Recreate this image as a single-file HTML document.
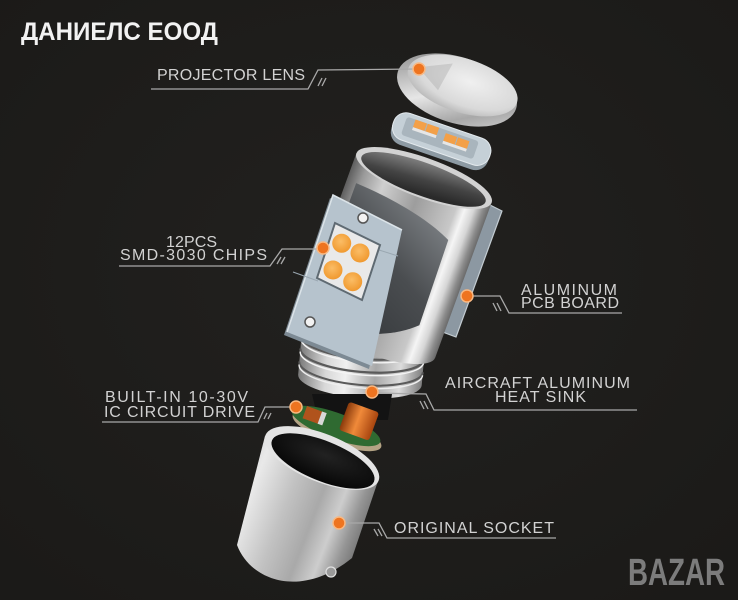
<!DOCTYPE html>
<html><head><meta charset="utf-8"><style>
html,body{margin:0;padding:0;background:#1f1e1c;}
svg{display:block;}
.lb{font-family:"Liberation Sans",sans-serif;font-size:16px;fill:#d2d2d2;}
.ln{fill:none;stroke:#a9a9a9;stroke-width:1.3;}
.dot{fill:#ee7420;stroke:#f8b882;stroke-width:1.5;}
</style></head><body>
<svg width="738" height="600" viewBox="0 0 738 600" xmlns="http://www.w3.org/2000/svg">
<defs>
<radialGradient id="bg" cx="50%" cy="45%" r="70%"><stop offset="0" stop-color="#22211f"/><stop offset="1" stop-color="#1b1a18"/></radialGradient>
<linearGradient id="cyl" gradientUnits="userSpaceOnUse" x1="-72" y1="0" x2="72" y2="0">
<stop offset="0" stop-color="#5e5e5e"/><stop offset=".1" stop-color="#9a9a9a"/><stop offset=".25" stop-color="#cfcfcf"/><stop offset=".5" stop-color="#9d9d9d"/><stop offset=".78" stop-color="#c8c8c8"/><stop offset=".84" stop-color="#f5f5f5"/><stop offset=".9" stop-color="#d6d6d6"/><stop offset=".96" stop-color="#8c8c8c"/><stop offset="1" stop-color="#6a6a6a"/></linearGradient>
<linearGradient id="win" gradientUnits="userSpaceOnUse" x1="40" y1="40" x2="-30" y2="170"><stop offset="0" stop-color="#7a7e82"/><stop offset=".45" stop-color="#4a4d50"/><stop offset="1" stop-color="#34373a"/></linearGradient>
<linearGradient id="inner" x1="0" y1="0" x2="0.3" y2="1"><stop offset="0" stop-color="#8a8a8a"/><stop offset=".6" stop-color="#444"/><stop offset="1" stop-color="#2a2a2a"/></linearGradient>
<linearGradient id="hs" gradientUnits="userSpaceOnUse" x1="-62" y1="0" x2="62" y2="0">
<stop offset="0" stop-color="#7a7a7a"/><stop offset=".22" stop-color="#d8d8d8"/><stop offset=".38" stop-color="#f0f0f0"/><stop offset=".62" stop-color="#a8a8a8"/><stop offset=".82" stop-color="#dcdcdc"/><stop offset="1" stop-color="#7e7e7e"/></linearGradient>
<linearGradient id="sock" gradientUnits="userSpaceOnUse" x1="238" y1="450" x2="380" y2="505">
<stop offset="0" stop-color="#c9c9c9"/><stop offset=".18" stop-color="#e9e9e9"/><stop offset=".42" stop-color="#c2c2c2"/><stop offset=".62" stop-color="#a9a9a9"/><stop offset=".76" stop-color="#cdcdcd"/><stop offset=".88" stop-color="#959595"/><stop offset="1" stop-color="#6c6c6c"/></linearGradient>
<radialGradient id="hole" cx="50%" cy="35%" r="70%"><stop offset="0" stop-color="#222"/><stop offset="1" stop-color="#050505"/></radialGradient>
<linearGradient id="lensb" x1="0" y1="0" x2="1" y2="1"><stop offset="0" stop-color="#7e7e7e"/><stop offset=".5" stop-color="#e6e6e6"/><stop offset=".75" stop-color="#a8a8a8"/><stop offset="1" stop-color="#dcdcdc"/></linearGradient>
<radialGradient id="lenst" cx="55%" cy="40%" r="65%"><stop offset="0" stop-color="#f0f0f0"/><stop offset=".7" stop-color="#d9d9d9"/><stop offset="1" stop-color="#b4b4b4"/></radialGradient>
<radialGradient id="led" cx="45%" cy="40%" r="60%"><stop offset="0" stop-color="#fbbd66"/><stop offset="1" stop-color="#f0992f"/></radialGradient>
<linearGradient id="coil" x1="0" y1="0" x2="1" y2="0"><stop offset="0" stop-color="#8a3a0c"/><stop offset=".45" stop-color="#f08a3a"/><stop offset="1" stop-color="#a8450f"/></linearGradient>
</defs>
<rect width="738" height="600" fill="url(#bg)"/>

<polygon points="486,203 502,211 456,337 440,331" fill="#8c98a2" stroke="#c3ccd2" stroke-width="1.2"/>

<g transform="translate(363,345) rotate(5)">
<path d="M-62 -15 L-62 35 A62 18 0 0 0 62 35 L62 -15 Z" fill="url(#hs)"/>
<path d="M-62 -4 A62 18 0 0 0 62 -4" fill="none" stroke="#5a5a5a" stroke-width="2.2"/>
<path d="M-62 -1 A62 18 0 0 0 62 -1" fill="none" stroke="#f4f4f4" stroke-width="1.4"/>
<path d="M-62 9 A62 18 0 0 0 62 9" fill="none" stroke="#5a5a5a" stroke-width="2.2"/>
<path d="M-62 12 A62 18 0 0 0 62 12" fill="none" stroke="#f4f4f4" stroke-width="1.4"/>
<path d="M-62 22 A62 18 0 0 0 62 22" fill="none" stroke="#5a5a5a" stroke-width="2"/>
<path d="M-62 25 A62 18 0 0 0 62 25" fill="none" stroke="#eeeeee" stroke-width="1.4"/>
</g>

<polygon points="312,394 392,394 388,420 318,420" fill="#131313"/>
<ellipse cx="337" cy="431" rx="47" ry="13" transform="rotate(20 337 431)" fill="#b3a384"/>
<ellipse cx="336" cy="426" rx="47" ry="13" transform="rotate(20 336 426)" fill="#2f6a31"/>
<g transform="translate(358,424) rotate(20)">
<rect x="-16" y="-18" width="32" height="30" rx="3" fill="url(#coil)"/>
</g>
<g transform="translate(314,416) rotate(20)">
<rect x="-10" y="-7" width="20" height="13" fill="#b0531c"/>
<rect x="6" y="-7" width="5" height="13" fill="#d8d8d8"/>
</g>

<g transform="translate(424,178) rotate(20)">
<path d="M-72 0 L-72 165 A72 20 0 0 0 72 165 L72 0 Z" fill="url(#cyl)"/>
<path d="M-62 28 C-20 30 20 38 44 50 L46 140 C30 155 10 165 -20 170 L-62 170 Z" fill="url(#win)"/>
<ellipse cx="0" cy="0" rx="72" ry="20" fill="#d2d2d2"/>
<ellipse cx="0" cy="1.5" rx="66" ry="16.5" fill="url(#inner)"/>
</g>

<polygon points="330,198 399,233 369,369 284,335" fill="#7d8a94"/>
<polygon points="333,195 402,230 372,366 287,332" fill="#b6c3cd"/>
<polyline points="287,332 333,195 402,230" fill="none" stroke="#dbe3e8" stroke-width="1.6"/>
<line x1="293" y1="272" x2="318" y2="281" stroke="#9aa7b1" stroke-width="1"/>
<line x1="379" y1="250" x2="398" y2="256" stroke="#9aa7b1" stroke-width="1"/>
<polygon points="335,223 380,245 362,300 317,278" fill="#e9e9e9" stroke="#5f6a72" stroke-width="2"/>
<circle cx="341.7" cy="243.3" r="9.5" fill="url(#led)"/>
<circle cx="360" cy="253" r="9.5" fill="url(#led)"/>
<circle cx="333" cy="270" r="9.5" fill="url(#led)"/>
<circle cx="352.7" cy="281.7" r="9.5" fill="url(#led)"/>
<circle cx="363" cy="218" r="5" fill="#f2f2f2" stroke="#555" stroke-width="1.5"/>
<circle cx="310" cy="322" r="5" fill="#f2f2f2" stroke="#555" stroke-width="1.5"/>

<g transform="translate(457,90) rotate(17.5)">
<ellipse cx="0" cy="0" rx="62" ry="33" fill="url(#lensb)"/>
<ellipse cx="4" cy="-6" rx="57" ry="27" fill="url(#lenst)"/>
<path d="M-44 -10 L-12 -24 L-18 6 Z" fill="#a0a0a0" opacity=".35"/>
</g>

<g transform="translate(441,141) rotate(19)">
<rect x="-51" y="-13" width="102" height="30" rx="13" fill="#8d9aa3"/>
<rect x="-51" y="-16" width="102" height="28" rx="13" fill="#c5d0d7" stroke="#e3e9ed" stroke-width="1"/>
<rect x="-40" y="-12" width="76" height="19" rx="3" fill="#a9b5bd"/>
<rect x="-31" y="-12" width="12" height="8" fill="#f3a048"/>
<rect x="-18" y="-12" width="12" height="8" fill="#f3a048"/>
<rect x="-31" y="-4" width="25" height="3" fill="#e6e6e6"/>
<rect x="2" y="-9" width="12" height="8" fill="#f3a048"/>
<rect x="15" y="-9" width="12" height="8" fill="#f3a048"/>
<rect x="2" y="-1" width="25" height="3" fill="#e6e6e6"/>
</g>

<path d="M265 436 L237 545 C250 580 300 600 352 558 L378 481 Z" fill="url(#sock)"/>
<ellipse cx="322" cy="458" rx="61" ry="24" transform="rotate(22 322 458)" fill="#e4e4e4"/>
<ellipse cx="323" cy="461" rx="55" ry="20" transform="rotate(22 323 461)" fill="url(#hole)"/>
<circle cx="331" cy="572" r="5" fill="#9a9a9a" stroke="#e0e0e0" stroke-width="1.2"/>

<polyline class="ln" points="151,89 308,89 318,70 419,69"/>
<line class="ln" x1="318" y1="86" x2="322" y2="78"/><line class="ln" x1="322" y1="86" x2="326" y2="78"/>
<polyline class="ln" points="119,266 270,266 282,249 323,249"/>
<line class="ln" x1="277" y1="264" x2="281" y2="257"/><line class="ln" x1="281" y1="264" x2="285" y2="257"/>
<polyline class="ln" points="467,296 500,296 509,313 622,313"/>
<line class="ln" x1="493" y1="303" x2="497" y2="311"/><line class="ln" x1="497" y1="303" x2="501" y2="311"/>
<polyline class="ln" points="372,393 426,394 434,410 637,410"/>
<line class="ln" x1="420" y1="401" x2="424" y2="409"/><line class="ln" x1="424" y1="401" x2="428" y2="409"/>
<polyline class="ln" points="102,422 258,422 265,407 296,407"/>
<line class="ln" x1="264" y1="419" x2="267" y2="413"/><line class="ln" x1="268" y1="419" x2="271" y2="413"/>
<polyline class="ln" points="339,523 379,523 387,538 556,538"/>
<line class="ln" x1="374" y1="529" x2="378" y2="536"/><line class="ln" x1="378" y1="529" x2="382" y2="536"/>

<circle class="dot" cx="419" cy="69" r="6"/>
<circle class="dot" cx="323" cy="248" r="6"/>
<circle class="dot" cx="467" cy="296" r="6"/>
<circle class="dot" cx="372" cy="392" r="6"/>
<circle class="dot" cx="296" cy="407" r="6"/>
<circle class="dot" cx="339" cy="523" r="6"/>

<text class="lb" x="157" y="80" textLength="148" lengthAdjust="spacing">PROJECTOR LENS</text>
<text class="lb" x="166" y="247" textLength="51" lengthAdjust="spacing">12PCS</text>
<text class="lb" x="120" y="260" textLength="147" lengthAdjust="spacing">SMD-3030 CHIPS</text>
<text class="lb" x="521" y="295" textLength="96" lengthAdjust="spacing">ALUMINUM</text>
<text class="lb" x="521" y="308" textLength="98" lengthAdjust="spacing">PCB BOARD</text>
<text class="lb" x="445" y="388" textLength="185" lengthAdjust="spacing">AIRCRAFT ALUMINUM</text>
<text class="lb" x="495" y="402" textLength="91" lengthAdjust="spacing">HEAT SINK</text>
<text class="lb" x="105" y="402" textLength="143" lengthAdjust="spacing">BUILT-IN 10-30V</text>
<text class="lb" x="104" y="417" textLength="151" lengthAdjust="spacing">IC CIRCUIT DRIVE</text>
<text class="lb" x="394" y="533" textLength="160" lengthAdjust="spacing">ORIGINAL SOCKET</text>

<text x="21" y="40" font-family="'Liberation Sans',sans-serif" font-weight="bold" font-size="25" fill="#f2f2f2" textLength="197" lengthAdjust="spacingAndGlyphs">ДАНИЕЛС ЕООД</text>

<text x="628" y="585" font-family="'Liberation Sans',sans-serif" font-weight="bold" font-size="38" fill="#7c7c7c" textLength="97" lengthAdjust="spacingAndGlyphs">BAZAR</text>
</svg>
</body></html>
